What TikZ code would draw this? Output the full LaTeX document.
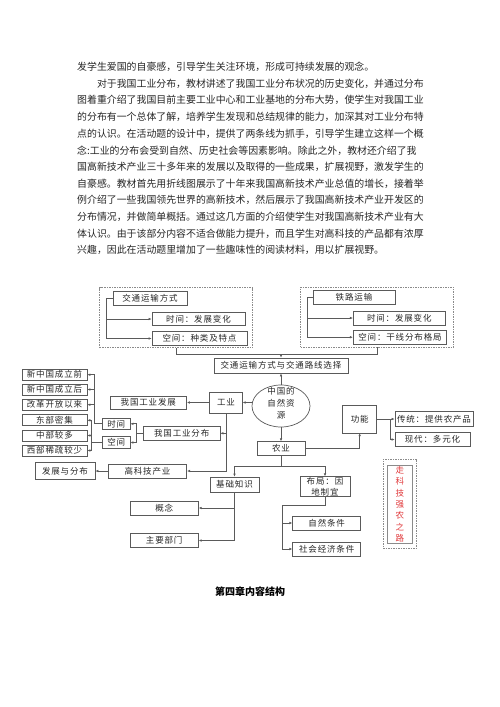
\documentclass[tikz,border=0pt]{standalone}
\usepackage{fontspec}
\setmainfont{Noto Sans CJK SC}
\newfontfamily\boxfont[LetterSpace=10]{Noto Sans CJK SC}
\usetikzlibrary{arrows.meta,shapes.geometric}
\definecolor{linegray}{HTML}{5A5A5A}
\definecolor{framegray}{HTML}{8A8A8A}
\definecolor{textgray}{HTML}{262626}
\definecolor{slogred}{HTML}{E0393B}
\tikzset{
  txtline/.style={anchor=west,inner sep=0pt,text=textgray,font=\fontsize{9.9}{12}\selectfont},
  box/.style={draw=linegray,line width=0.7pt,inner sep=0pt,text=textgray,font=\boxfont\fontsize{8.5}{11}\selectfont},
  resource/.style={ellipse,draw=linegray,line width=0.7pt,inner sep=0pt,text=textgray,font=\boxfont\fontsize{8.5}{11.7}\selectfont},
  dashframe/.style={draw=framegray,line width=0.6pt,dash pattern=on 1.5pt off 1pt,inner sep=0pt},
  link/.style={linegray,line width=0.7pt},
  conn/.style={link,-{Latex[length=3pt,width=2.6pt]}}
}

\begin{document}
\begin{tikzpicture}[x=1pt,y=-1pt]
\useasboundingbox (0,0) rectangle (500,707);
% paragraph above the chart
\node[txtline] (p1) at (77,67) {发学生爱国的自豪感，引导学生关注环境，形成可持续发展的观念。};
\node[txtline] (p2) at (96.8,83.7) {对于我国工业分布，教材讲述了我国工业分布状况的历史变化，并通过分布};
\node[txtline] (p3) at (77,100.3) {图着重介绍了我国目前主要工业中心和工业基地的分布大势，使学生对我国工业};
\node[txtline] (p4) at (77,117) {的分布有一个总体了解，培养学生发现和总结规律的能力，加深其对工业分布特};
\node[txtline] (p5) at (77,133.6) {点的认识。在活动题的设计中，提供了两条线为抓手，引导学生建立这样一个概};
\node[txtline] (p6) at (77,150.3) {念:工业的分布会受到自然、历史社会等因素影响。除此之外，教材还介绍了我};
\node[txtline] (p7) at (77,166.9) {国高新技术产业三十多年来的发展以及取得的一些成果，扩展视野，激发学生的};
\node[txtline] (p8) at (77,183.6) {自豪感。教材首先用折线图展示了十年来我国高新技术产业总值的增长，接着举};
\node[txtline] (p9) at (77,200.2) {例介绍了一些我国领先世界的高新技术，然后展示了我国高新技术产业开发区的};
\node[txtline] (p10) at (77,216.9) {分布情况，并做简单概括。通过这几方面的介绍使学生对我国高新技术产业有大};
\node[txtline] (p11) at (77,233.5) {体认识。由于该部分内容不适合做能力提升，而且学生对高科技的产品都有浓厚};
\node[txtline] (p12) at (77,250.2) {兴趣，因此在活动题里增加了一些趣味性的阅读材料，用以扩展视野。};

% transport groups
\node[dashframe,minimum width=153,minimum height=60] (ysL) at (176,317.5) {};
\node[dashframe,minimum width=153,minimum height=60] (ysR) at (377,317) {};
\node[box,minimum width=74,minimum height=14] (ysfs) at (150,298) {交通运输方式};
\node[box,minimum width=93,minimum height=13.5] (sjA) at (198.5,319) {时间：发展变化};
\node[box,minimum width=95,minimum height=13.5] (kjA) at (199.5,338.5) {空间：种类及特点};
\node[box,minimum width=82,minimum height=14] (tlys) at (354,297.5) {铁路运输};
\node[box,minimum width=92,minimum height=14] (sjB) at (399.3,318) {时间：发展变化};
\node[box,minimum width=93.5,minimum height=14] (kjB) at (400,337.2) {空间：干线分布格局};
\node[box,minimum width=134,minimum height=15] (jtxz) at (281,365.5) {交通运输方式与交通路线选择};
\coordinate (brA) at (106,298);
\draw[conn] (ysfs.west) -- (brA) |- (sjA.west);
\draw[conn] (brA) |- (kjA.west);
\coordinate (brB) at (307.3,297.5);
\draw[conn] (tlys.west) -- (brB) |- (sjB.west);
\draw[conn] (brB) |- (kjB.west);
\draw[link] (ysL.south) -- ++(0,6.5) -| (ysR.south);
\coordinate (jtm) at (281,354);
\draw[conn] (jtm) -- (jtxz.north);

% centre
\node[resource,minimum width=58,minimum height=42] (zyy) at (281,406) {\smash{\begin{tabular}{@{}c@{}}中国的\\自然资\\源\end{tabular}}};
\draw[conn] (zyy.north) -- (jtxz.south);

% industry
\node[box,minimum width=32.5,minimum height=21] (gy) at (226,402.5) {工业};
\draw[conn] (zyy.west |- gy) -- (gy.east);
\node[box,minimum width=76.5,minimum height=13] (gyfz) at (148.3,402.5) {我国工业发展};
\draw[conn] (gy.west) -- (gyfz.east);
\node[box,minimum width=76.7,minimum height=14.5] (gyfb) at (181.7,433.3) {我国工业分布};
\node[box,minimum width=78.4,minimum height=14] (gkj) at (147.5,471) {高科技产业};
\draw[conn] (gy.south) |- (gkj.east);
\draw[conn] (gy.south |- gyfb) -- (gyfb.east);
\node[box,minimum width=60,minimum height=17] (fzfb) at (65,471) {发展与分布};
\draw[conn] (gkj.west) -- (fzfb.east);
\node[box,minimum width=27.7,minimum height=11] (sj) at (116.2,423.8) {时间};
\node[box,minimum width=27.7,minimum height=11.6] (kj) at (116.2,442.5) {空间};
\coordinate (fbm) at (136.7,433.3);
\draw[link] (gyfb.west) -- (fbm);
\draw[conn] (fbm) |- (sj.east);
\draw[conn] (fbm) |- (kj.east);
\node[box,minimum width=65,minimum height=11] (qA) at (54.5,374.7) {新中国成立前};
\node[box,minimum width=65,minimum height=11] (qB) at (54.5,389.5) {新中国成立后};
\node[box,minimum width=65,minimum height=11] (qC) at (54.5,404.7) {改革开放以来};
\node[box,minimum width=65,minimum height=11] (qD) at (54.5,420.3) {东部密集};
\node[box,minimum width=65,minimum height=11] (qE) at (54.5,435.5) {中部较多};
\node[box,minimum width=65,minimum height=11] (qF) at (54.5,450.5) {西部稀疏较少};
\coordinate (sjm) at (94.3,423.8);
\draw[conn] (sj.west) -- (sjm) |- (qA.east);
\draw[conn] (sjm |- qB) -- (qB.east);
\draw[conn] (sjm |- qC) -- (qC.east);
\coordinate (kjm) at (91.7,442.5);
\draw[link] (kj.west) -- (kjm);
\draw[conn] (kjm) |- (qD.east);
\draw[conn] (kjm |- qE) -- (qE.east);
\draw[conn] (kjm) |- (qF.east);

% agriculture
\node[box,minimum width=48.3,minimum height=13.3] (ny) at (281,448.3) {农业};
\draw[conn] (zyy.south) -- (ny.north);
\node[box,minimum width=34,minimum height=27.7] (gn) at (359.7,419) {功能};
\draw[conn] (ny.east) -| (gn.south);
\node[box,minimum width=78,minimum height=15.6] (ct) at (434,419) {传统：提供农产品};
\node[box,minimum width=75,minimum height=14.4] (xd) at (432.5,439.5) {现代：多元化};
\coordinate (gnm) at (390,419);
\draw[conn] (gn.east) -- (ct.west);
\draw[conn] (gnm) |- (xd.west);
\node[box,minimum width=49,minimum height=15] (jczs) at (234.5,484.5) {基础知识};
\node[box,minimum width=50,minimum height=20,align=center] (bj) at (325,486.7) {布局：因\\地制宜};
\coordinate (nym) at (281,466.7);
\draw[link] (ny.south) -- (nym);
\draw[conn] (nym) -| (jczs.north);
\draw[conn] (nym) -| (bj.north);
\node[box,minimum width=68.3,minimum height=14] (gnian) at (164.2,508) {概念};
\node[box,minimum width=68.3,minimum height=14.4] (zybm) at (164.2,540.5) {主要部门};
\draw[conn] (jczs.south) |- (zybm.east);
\draw[conn] (jczs.south |- gnian) -- (gnian.east);
\node[box,minimum width=68,minimum height=14] (zrtj) at (326.7,523) {自然条件};
\node[box,minimum width=68,minimum height=14] (shtj) at (326.7,549) {社会经济条件};
\coordinate (bjm) at (282.7,505);
\draw[link] (bj.south) |- (bjm);
\draw[conn] (bjm) |- (shtj.west);
\draw[conn] (bjm |- zrtj) -- (zrtj.west);

% slogan
\node[dashframe,minimum width=33.5,minimum height=89] (kjqn) at (399.8,503.8) {};
\node[box,draw=framegray,minimum width=25,minimum height=78.3,align=center,text=slogred,font=\boxfont\fontsize{8.5}{11.4}\selectfont] (kjqnt) at (399.8,504.2) {走\\科\\技\\强\\农\\之\\路};

\node[font=\bfseries\fontsize{10}{12}\selectfont] (title) at (250,591.7) {第四章内容结构};
\end{tikzpicture}
\end{document}
